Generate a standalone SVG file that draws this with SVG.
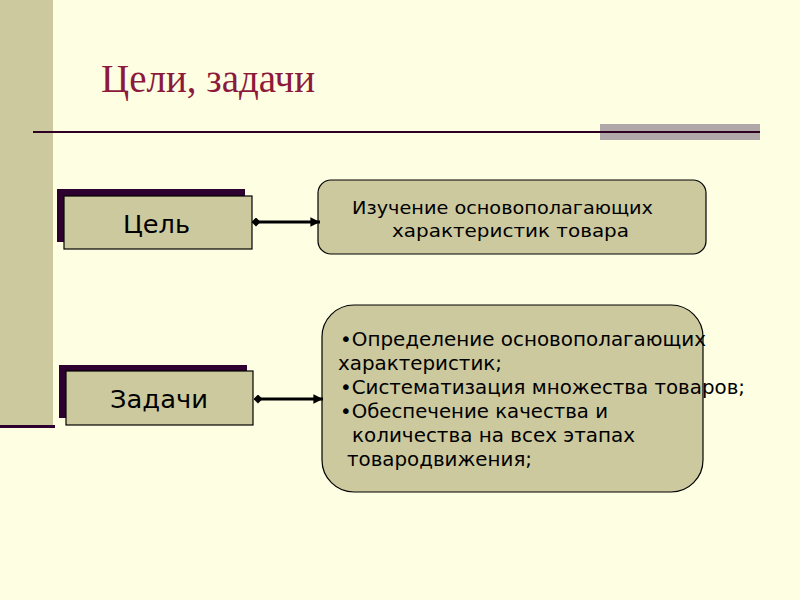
<svg xmlns="http://www.w3.org/2000/svg" width="800" height="600" viewBox="0 0 800 600">
  <style>
    .box { fill: #CCC99E; stroke: #000000; stroke-width: 1.2; }
    .shadow { fill: #2E0030; }
    .lbl { font-family: "DejaVu Sans", "Liberation Sans", sans-serif; fill: #000000; }
    .conn { stroke: #000000; stroke-width: 3; fill: none; marker-start: url(#diamond); marker-end: url(#arrow); }
  </style>
  <defs>
    <marker id="diamond" viewBox="0 0 10 10" refX="5" refY="5" markerWidth="3" markerHeight="3" markerUnits="strokeWidth" orient="auto">
      <path d="M0,5 L5,0 L10,5 L5,10 Z" fill="#000000"/>
    </marker>
    <marker id="arrow" viewBox="0 0 10 10" refX="10" refY="5" markerWidth="3.2" markerHeight="3.2" markerUnits="strokeWidth" orient="auto">
      <path d="M0,0 L10,5 L0,10 Z" fill="#000000"/>
    </marker>
  </defs>

  <!-- background -->
  <rect x="0" y="0" width="800" height="600" fill="#FEFEE2"/>
  <rect x="0" y="0" width="53" height="425" fill="#CCC99E"/>
  <rect x="0" y="425" width="55" height="3" fill="#2E0030"/>

  <!-- title -->
  <g id="title">
    <text x="101" y="92" font-family="Liberation Serif, serif" font-size="39" fill="#8C1A3C" textLength="214" lengthAdjust="spacingAndGlyphs">Цели, задачи</text>
  </g>
  <rect x="600" y="124" width="160" height="16" fill="#B0A8A8"/>
  <line x1="33" y1="132" x2="760" y2="132" stroke="#2E0022" stroke-width="2.2"/>

  <!-- node: Цель -->
  <g id="node-goal">
    <rect class="shadow" x="57" y="189" width="188" height="53"/>
    <rect class="box" x="64" y="196" width="188" height="53"/>
    <text class="lbl" x="123" y="233" font-size="24.5" textLength="67" lengthAdjust="spacingAndGlyphs">Цель</text>
  </g>

  <!-- node: Задачи -->
  <g id="node-tasks">
    <rect class="shadow" x="59" y="365" width="188" height="53"/>
    <rect class="box" x="66" y="371" width="187" height="54"/>
    <text class="lbl" x="110" y="408" font-size="24.5" textLength="98" lengthAdjust="spacingAndGlyphs">Задачи</text>
  </g>

  <!-- node: goal description -->
  <g id="node-goal-desc">
    <rect class="box" x="318" y="180" width="388" height="74" rx="13" ry="13"/>
    <text class="lbl" x="352" y="214" font-size="18.5" textLength="301" lengthAdjust="spacingAndGlyphs">Изучение основополагающих</text>
    <text class="lbl" x="392" y="237" font-size="18.5" textLength="237" lengthAdjust="spacingAndGlyphs">характеристик товара</text>
  </g>

  <!-- node: tasks description -->
  <g id="node-tasks-desc">
    <rect class="box" x="322" y="305" width="381" height="187" rx="32" ry="32"/>
    <text class="lbl" x="340" y="346" font-size="19" textLength="366" lengthAdjust="spacingAndGlyphs">•Определение основополагающих</text>
    <text class="lbl" x="338" y="370" font-size="19" textLength="164" lengthAdjust="spacingAndGlyphs">характеристик;</text>
    <text class="lbl" x="340" y="394" font-size="19" textLength="405" lengthAdjust="spacingAndGlyphs">•Систематизация множества товаров;</text>
    <text class="lbl" x="340" y="418" font-size="19" textLength="268" lengthAdjust="spacingAndGlyphs">•Обеспечение качества и</text>
    <text class="lbl" x="352" y="442" font-size="19" textLength="283" lengthAdjust="spacingAndGlyphs">количества на всех этапах</text>
    <text class="lbl" x="347" y="466" font-size="19" textLength="185" lengthAdjust="spacingAndGlyphs">товародвижения;</text>
  </g>

  <!-- connectors -->
  <g id="connectors">
    <line class="conn" x1="256" y1="222" x2="320" y2="222"/>
    <line class="conn" x1="258" y1="399" x2="323" y2="399"/>
  </g>
</svg>
